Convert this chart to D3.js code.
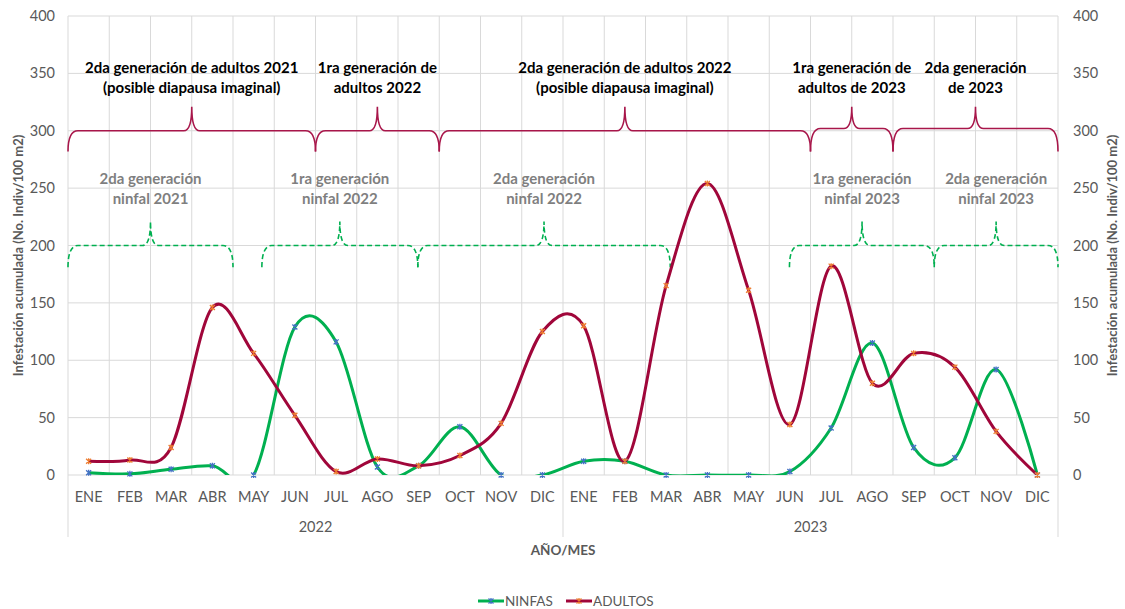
<!DOCTYPE html>
<html lang="es">
  <head>
    <meta charset="utf-8">
    <title>Infestación acumulada</title>
    <script src="https://d3js.org/d3.v7.min.js"></script>
    <style>
      body { margin: 0; background: #fff; }
      text { font-family: Lato, "Open Sans", sans-serif; }
    </style>
  </head>
  <body>
    <script>
      // categorias (meses, dos años)
      const meses = ["ENE", "FEB", "MAR", "ABR", "MAY", "JUN", "JUL", "AGO", "SEP", "OCT", "NOV", "DIC"];
      const anios = ["2022", "2023"];
      const ninfas = [2, 1, 5, 8, 0, 129, 116, 7, 8, 42, 0, 0,
                      12, 12, 0, 0, 0, 3, 41, 115, 24, 15, 92, 0];
      const adultos = [12, 13, 24, 146, 106, 52, 3, 14, 8, 17, 45, 125,
                       130, 12, 165, 254, 161, 44, 182, 80, 106, 94, 38, 0];
      const yTicks = [0, 50, 100, 150, 200, 250, 300, 350, 400];

      // llaves de generaciones: inicio, fin, pico (en meses), nivel
      const llavesAdultos = [
        { x0: 0, x1: 6, xm: 3, y: 300, lab: ["2da generación de adultos 2021", "(posible diapausa imaginal)"] },
        { x0: 6, x1: 9, xm: 7.5, y: 300, lab: ["1ra generación de", "adultos 2022"] },
        { x0: 9, x1: 18, xm: 13.5, y: 300, lab: ["2da generación de adultos 2022", "(posible diapausa imaginal)"] },
        { x0: 18, x1: 20, xm: 19, y: 302, lab: ["1ra generación de", "adultos de 2023"] },
        { x0: 20, x1: 24, xm: 22, y: 302, lab: ["2da generación", "de 2023"] }
      ];
      const llavesNinfas = [
        { x0: 0, x1: 4, xm: 2, y: 200, lab: ["2da generación", "ninfal 2021"] },
        { x0: 4.7, x1: 8.48, xm: 6.59, y: 200, lab: ["1ra generación", "ninfal 2022"] },
        { x0: 8.48, x1: 14.6, xm: 11.54, y: 200, lab: ["2da generación", "ninfal 2022"] },
        { x0: 17.49, x1: 21, xm: 19.25, y: 200, lab: ["1ra generación", "ninfal 2023"] },
        { x0: 21, x1: 24, xm: 22.5, y: 200, lab: ["2da generación", "ninfal 2023"] }
      ];

      const width = 1125, height = 609;
      const mLeft = 68, mRight = 1058, mTop = 16, mBottom = 475;
      const grey = "#595959";
      const verde = "#00B050", rojo = "#A0063A", rojoLlave = "#A8164A";

      const cats = d3.range(24);
      const x = d3.scaleBand().domain(cats).range([mLeft, mRight]);
      const xs = d3.scaleLinear().domain([0, 24]).range([mLeft, mRight]);
      const y = d3.scaleLinear().domain([0, 400]).range([mBottom, mTop]);

      const svg = d3.select("body").append("svg")
                    .attr("width", width)
                    .attr("height", height);

      svg.append("defs").append("clipPath").attr("id", "clip")
         .append("rect").attr("x", mLeft).attr("y", mTop)
         .attr("width", mRight - mLeft).attr("height", mBottom - mTop);

      // cuadricula
      svg.append("g").selectAll("line").data(yTicks).enter().append("line")
         .attr("x1", mLeft).attr("x2", mRight)
         .attr("y1", d => y(d)).attr("y2", d => y(d))
         .attr("stroke", "#d9d9d9").attr("stroke-width", 1);
      svg.append("g").selectAll("line").data(d3.range(25)).enter().append("line")
         .attr("x1", d => xs(d)).attr("x2", d => xs(d))
         .attr("y1", mTop)
         .attr("y2", d => (d % 12 === 0) ? 537 : mBottom)
         .attr("stroke", "#d9d9d9").attr("stroke-width", 1);

      // ejes y (izq y der)
      svg.append("g").selectAll("text").data(yTicks).enter().append("text")
         .attr("x", 55).attr("y", d => y(d)).attr("dy", "0.35em")
         .attr("text-anchor", "end").attr("font-size", 14.5).attr("fill", grey)
         .text(d => d);
      svg.append("g").selectAll("text").data(yTicks).enter().append("text")
         .attr("x", 1073).attr("y", d => y(d)).attr("dy", "0.35em")
         .attr("text-anchor", "start").attr("font-size", 14.5).attr("fill", grey)
         .text(d => d);

      const tituloY = "Infestación acumulada (No. Indiv/100 m2)";
      [18, 1112].forEach(tx => {
        svg.append("text")
           .attr("transform", `translate(${tx},${(mTop + mBottom) / 2 + 10}) rotate(-90)`)
           .attr("text-anchor", "middle").attr("dy", "0.35em")
           .attr("font-size", 13).attr("font-weight", "bold").attr("fill", grey)
           .text(tituloY);
      });

      // eje x
      svg.append("g").selectAll("text").data(cats).enter().append("text")
         .attr("x", d => x(d) + x.bandwidth() / 2).attr("y", 497).attr("dy", "0.35em")
         .attr("text-anchor", "middle").attr("font-size", 14.5).attr("fill", grey)
         .text(d => meses[d % 12]);
      svg.append("g").selectAll("text").data(anios).enter().append("text")
         .attr("x", (d, i) => xs(i * 12 + 6)).attr("y", 527).attr("dy", "0.35em")
         .attr("text-anchor", "middle").attr("font-size", 14.5).attr("fill", grey)
         .text(d => d);
      svg.append("text")
         .attr("x", xs(12)).attr("y", 550).attr("dy", "0.35em")
         .attr("text-anchor", "middle").attr("font-size", 13.5).attr("font-weight", "bold").attr("fill", grey)
         .text("AÑO/MES");

      // llaves
      function llave(d, lineY, tipY, peakY) {
        const a = xs(d.x0), b = xs(d.x1), m = xs(d.xm);
        const ly = y(lineY), ty = y(tipY), py = y(peakY);
        const r = 10, rp = 8;
        return `M${a},${ty} Q${a},${ly} ${a + r},${ly} L${m - rp},${ly} Q${m},${ly} ${m},${py}` +
               ` Q${m},${ly} ${m + rp},${ly} L${b - r},${ly} Q${b},${ly} ${b},${ty}`;
      }
      svg.append("g").selectAll("path").data(llavesAdultos).enter().append("path")
         .attr("d", d => llave(d, d.y, 282, 321))
         .attr("fill", "none").attr("stroke", rojoLlave).attr("stroke-width", 1.6);
      svg.append("g").selectAll("path").data(llavesNinfas).enter().append("path")
         .attr("d", d => llave(d, d.y, 181, 221))
         .attr("fill", "none").attr("stroke", verde).attr("stroke-width", 1.6)
         .attr("stroke-dasharray", "5,3");

      const labA = svg.append("g").selectAll("text").data(llavesAdultos).enter().append("text")
         .attr("text-anchor", "middle").attr("font-size", 15).attr("font-weight", "bold").attr("fill", "#000");
      labA.selectAll("tspan").data(d => d.lab.map(t => ({ t, xm: d.xm }))).enter().append("tspan")
         .attr("x", d => xs(d.xm)).attr("y", (d, i) => 73 + i * 20)
         .text(d => d.t);
      const labN = svg.append("g").selectAll("text").data(llavesNinfas).enter().append("text")
         .attr("text-anchor", "middle").attr("font-size", 15).attr("font-weight", "bold").attr("fill", "#7f7f7f");
      labN.selectAll("tspan").data(d => d.lab.map(t => ({ t, xm: d.xm }))).enter().append("tspan")
         .attr("x", d => xs(d.xm)).attr("y", (d, i) => 184 + i * 20)
         .text(d => d.t);

      // series
      const linea = d3.line()
                      .x((d, i) => x(i) + x.bandwidth() / 2)
                      .y(d => y(d))
                      .curve(d3.curveCardinal.tension(0));
      const lineas = svg.append("g").attr("clip-path", "url(#clip)");
      lineas.append("path").attr("d", linea(ninfas))
            .attr("fill", "none").attr("stroke", verde).attr("stroke-width", 3);
      lineas.append("path").attr("d", linea(adultos))
            .attr("fill", "none").attr("stroke", rojo).attr("stroke-width", 3);

      const estrella = "M-2.5,-2.5L2.5,2.5M-2.5,2.5L2.5,-2.5M0,-3L0,3";
      function marcas(datos, color) {
        svg.append("g").selectAll("path").data(datos).enter().append("path")
           .attr("transform", (d, i) => `translate(${x(i) + x.bandwidth() / 2},${y(d)})`)
           .attr("d", estrella).attr("fill", "none")
           .attr("stroke", color).attr("stroke-width", 1.3);
      }
      marcas(ninfas, "#4472C4");
      marcas(adultos, "#ED7D31");

      // leyenda
      const leyenda = [
        { nombre: "NINFAS", color: verde, marca: "#4472C4", x0: 478 },
        { nombre: "ADULTOS", color: rojo, marca: "#ED7D31", x0: 566 }
      ];
      const lg = svg.append("g").selectAll("g").data(leyenda).enter().append("g")
                    .attr("transform", d => `translate(${d.x0},601)`);
      lg.append("line").attr("x1", 0).attr("x2", 26).attr("y1", 0).attr("y2", 0)
        .attr("stroke", d => d.color).attr("stroke-width", 3);
      lg.append("path").attr("transform", "translate(13,0)").attr("d", estrella)
        .attr("fill", "none").attr("stroke", d => d.marca).attr("stroke-width", 1.3);
      lg.append("text").attr("x", 27).attr("dy", "0.35em")
        .attr("font-size", 13.5).attr("fill", grey).text(d => d.nombre);
    </script>
  </body>
</html>
